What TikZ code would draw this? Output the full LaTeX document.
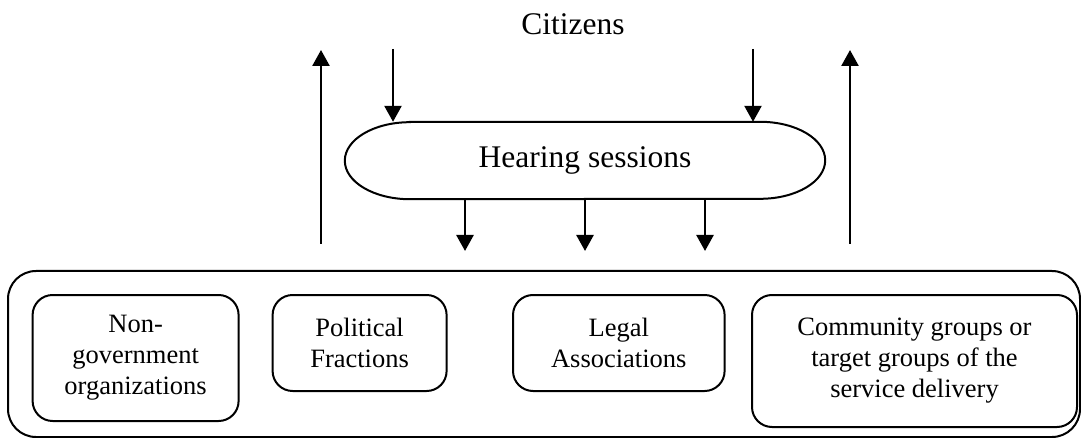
\documentclass[tikz,border=0pt]{standalone}
\usepackage{fontspec}
\setmainfont{Liberation Serif}
\usetikzlibrary{arrows.meta}
\tikzset{
  box/.style={draw, line width=2pt, rounded corners=20pt, inner sep=0pt, outer sep=0pt, align=center, font=\fontsize{26.5}{31}\selectfont},
  bigtext/.style={font=\fontsize{31.5}{37}\selectfont, inner sep=0pt},
  arr/.style={line width=2.5pt, -{Triangle[length=16pt,width=17pt]}}
}
\begin{document}
\begin{tikzpicture}[x=1pt,y=-1pt]
\useasboundingbox (0,0) rectangle (1081,438);
% outer container
\node[box, rounded corners=28pt, minimum width=1072pt, minimum height=166pt] (outer) at (544,354) {};
% inner boxes
\node[box, minimum width=206pt, minimum height=126pt] (ngo) at (135.6,358) {Non-\\government\\organizations};
\node[box, minimum width=174pt, minimum height=96pt] (pol) at (359.6,343) {Political\\Fractions};
\node[box, minimum width=211.6pt, minimum height=96pt] (leg) at (618.8,343) {Legal\\Associations};
\node[box, minimum width=325pt, minimum height=132pt] (com) at (914.5,361) {Community groups or\\target groups of the\\service delivery};
% citizens
\node[bigtext] (cit) at (573,24) {Citizens};
% hearing sessions
\node[bigtext, minimum width=480pt, minimum height=77pt] (hs) at (585,160.5) {Hearing sessions};
\draw[line width=2pt] ([xshift=65pt]hs.north west) -- ([xshift=-65pt]hs.north east)
  arc[start angle=90, end angle=-90, x radius=65pt, y radius=38.5pt]
  -- ([xshift=65pt]hs.south west)
  arc[start angle=270, end angle=90, x radius=65pt, y radius=38.5pt] -- cycle;
% coordinates
\coordinate (u1s) at (321,244);
\coordinate (u1e) at (321,50);
\coordinate (u2s) at (850,244);
\coordinate (u2e) at (850,50);
\coordinate (d1s) at (393,49);
\coordinate (d2s) at (753,49);
\coordinate (b1) at (465,251);
\coordinate (b2) at (585,251);
\coordinate (b3) at (705,251);
% arrows
\draw[arr] (u1s) -- (u1e);
\draw[arr] (u2s) -- (u2e);
\draw[arr] (d1s) -- (d1s |- hs.north);
\draw[arr] (d2s) -- (d2s |- hs.north);
\draw[arr] (b1 |- hs.south) -- (b1);
\draw[arr] (b2 |- hs.south) -- (b2);
\draw[arr] (b3 |- hs.south) -- (b3);
\end{tikzpicture}
\end{document}
